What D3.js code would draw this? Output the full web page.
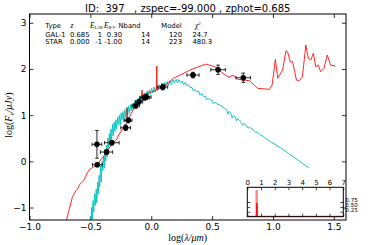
<!DOCTYPE html>
<html>
<head>
<meta charset="utf-8">
<script src="https://cdn.jsdelivr.net/npm/d3@7"></script>
<style>
  body { margin: 0; background: #fff; }
  svg { display: block; }
  text { font-family: "DejaVu Sans", sans-serif; fill: #000; }
  .math { font-family: "Liberation Serif", serif; }
</style>
</head>
<body>
<script>
// ---- data ----
const xTicks = [-1.0, -0.5, 0.0, 0.5, 1.0, 1.5];
const yTicks = [-1, 0, 1, 2, 3];

// observed photometry: log(lambda/um), log(F_nu/uJy), errors
const obsLogLam = [-0.443, -0.446, -0.367, -0.324, -0.210, -0.188, -0.128, -0.100, -0.055, -0.041, 0.095, 0.343, 0.549, 0.756];
const obsLogF   = [-0.074, 0.368, 0.201, 0.403, 0.727, 0.887, 1.203, 1.290, 1.377, 1.392, 1.608, 1.868, 1.983, 1.810];
const obsErrLam = [0.04, 0.04, 0.05, 0.06, 0.04, 0.03, 0.03, 0.03, 0.04, 0.04, 0.04, 0.05, 0.06, 0.06];
const obsErrF   = [0.04, 0.30, 0.05, 0.05, 0.06, 0.05, 0.05, 0.05, 0.05, 0.05, 0.06, 0.06, 0.10, 0.10];

// best galaxy template (red)
const galModel = [
  [-0.72, -1.45], [-0.696, -1.27], [-0.672, -1.02], [-0.647, -0.766], [-0.62, -0.64], [-0.605, -0.6],
  [-0.587, -0.498], [-0.57, -0.46], [-0.552, -0.405], [-0.53, -0.28], [-0.511, -0.188], [-0.48, -0.13],
  [-0.443, -0.074], [-0.41, 0.05], [-0.367, 0.186], [-0.345, 0.29], [-0.321, 0.39], [-0.288, 0.461],
  [-0.267, 0.569], [-0.235, 0.7], [-0.2, 0.84], [-0.198, 1.154], [-0.196, 0.87], [-0.171, 1.002],
  [-0.145, 1.13], [-0.117, 1.255], [-0.078, 1.42], [-0.076, 1.543], [-0.074, 1.44], [-0.035, 1.472],
  [0.0, 1.5], [0.044, 1.54], [0.046, 2.063], [0.048, 1.55], [0.1, 1.615], [0.14, 1.7], [0.182, 1.797],
  [0.237, 1.868], [0.318, 1.976], [0.38, 2.04], [0.449, 2.106], [0.522, 2.048], [0.59, 1.905],
  [0.639, 1.818], [0.671, 1.868], [0.712, 1.775], [0.808, 1.745], [0.875, 1.58], [0.971, 1.558],
  [0.993, 1.652], [1.02, 2.208], [1.039, 1.797], [1.079, 1.976], [1.107, 2.394], [1.12, 2.372],
  [1.142, 2.156], [1.161, 2.156], [1.193, 1.76], [1.215, 1.745], [1.242, 1.831], [1.27, 2.517],
  [1.291, 2.229], [1.311, 2.193], [1.332, 2.338], [1.352, 2.048], [1.373, 2.084], [1.392, 1.939],
  [1.419, 2.013], [1.446, 2.301], [1.474, 2.084], [1.515, 2.063]
];

// best stellar template (cyan)
const starModel = [
  [-0.51, -1.5], [-0.50, -1.2], [-0.495, -1.4], [-0.49, -1.0], [-0.485, -1.25], [-0.478, -0.85],
  [-0.472, -1.1], [-0.465, -0.7], [-0.46, -0.95], [-0.452, -0.6], [-0.447, -0.9], [-0.44, -0.45],
  [-0.435, -0.7], [-0.428, -0.3], [-0.423, -0.55], [-0.416, -0.1], [-0.41, -0.45], [-0.404, 0.0],
  [-0.398, -0.2], [-0.392, 0.1], [-0.386, -0.15], [-0.38, 0.25], [-0.374, 0.0], [-0.368, 0.35],
  [-0.362, 0.1], [-0.356, 0.5], [-0.35, 0.3], [-0.344, 0.6], [-0.338, 0.35], [-0.332, 0.7],
  [-0.326, 0.45], [-0.318, 0.8], [-0.312, 0.55], [-0.305, 0.85], [-0.298, 0.65], [-0.29, 0.9],
  [-0.284, 0.7], [-0.277, 0.95], [-0.27, 0.8], [-0.262, 1.0], [-0.255, 0.78], [-0.247, 1.05],
  [-0.24, 0.9], [-0.232, 1.08], [-0.225, 0.85], [-0.217, 1.12], [-0.21, 0.95], [-0.2, 1.17],
  [-0.193, 1.0], [-0.185, 1.2], [-0.177, 1.05], [-0.168, 1.23], [-0.16, 1.1], [-0.152, 1.26],
  [-0.145, 1.12], [-0.136, 1.3], [-0.128, 1.18], [-0.12, 1.33], [-0.112, 1.2], [-0.104, 1.37],
  [-0.096, 1.25], [-0.088, 1.41], [-0.08, 1.3], [-0.07, 1.44], [-0.062, 1.33], [-0.052, 1.48],
  [-0.044, 1.38], [-0.035, 1.52], [-0.026, 1.42], [-0.016, 1.55], [-0.007, 1.45], [0.004, 1.58],
  [0.013, 1.48], [0.024, 1.61], [0.033, 1.5], [0.045, 1.64], [0.055, 1.55], [0.066, 1.66],
  [0.076, 1.56], [0.088, 1.69], [0.098, 1.6], [0.11, 1.71], [0.12, 1.62], [0.132, 1.73],
  [0.142, 1.64], [0.155, 1.75], [0.165, 1.66], [0.178, 1.77], [0.19, 1.7], [0.205, 1.78],
  [0.215, 1.7], [0.228, 1.77], [0.24, 1.7], [0.255, 1.74], [0.265, 1.66], [0.278, 1.71],
  [0.29, 1.64], [0.305, 1.66], [0.318, 1.6], [0.335, 1.6], [0.345, 1.52], [0.36, 1.56],
  [0.375, 1.5], [0.39, 1.52], [0.4, 1.44], [0.415, 1.47], [0.43, 1.4], [0.445, 1.41],
  [0.455, 1.33], [0.47, 1.37], [0.485, 1.33], [0.5, 1.32], [0.51, 1.25], [0.525, 1.28],
  [0.545, 1.24], [0.563, 1.22], [0.58, 1.19], [0.6, 1.15], [0.62, 1.12], [0.63, 1.02],
  [0.64, 1.08], [0.655, 1.03], [0.665, 0.94], [0.675, 1.0], [0.69, 0.96], [0.7, 0.88],
  [0.71, 0.93], [0.726, 0.89], [0.74, 0.84], [0.75, 0.78], [0.76, 0.82], [0.78, 0.78],
  [0.795, 0.72], [0.808, 0.74], [0.84, 0.68], [0.86, 0.62], [0.87, 0.64], [0.889, 0.59],
  [0.93, 0.52], [0.971, 0.44], [1.052, 0.31], [1.134, 0.16], [1.215, 0.01], [1.297, -0.145]
];

// fit summary table
const tableHead = ["Type", "z", "E_LAW", "E_B-V", "Nband", "Model", "χ2"];
const tableRows = [
  ["GAL-1", "0.685", "1", "0.30", "14", "120", "24.7"],
  ["STAR", "0.000", "-1", "-1.00", "14", "223", "480.3"]
];

// redshift PDF inset
const pdfTicksX = [0, 1, 2, 3, 4, 5, 6, 7];
const pdfTicksY = [0.25, 0.5, 0.75];
const pdfZ = [0, 0.66, 0.69, 0.71, 0.74, 7];
const pdfP = [0.02, 0.02, 0.7, 0.7, 0.02, 0.02];
const zphot = 0.685, zphotPeak = 1.36;

const titleText = "ID:  397   , zspec=-99.000 , zphot=0.685";

// ---- layout ----
const W = 368, H = 245;
const margin = { top: 14, right: 22, bottom: 25, left: 29.5 };
const iw = W - margin.left - margin.right, ih = H - margin.top - margin.bottom;

const svg = d3.select("body").append("svg").attr("width", W).attr("height", H);

const x = d3.scaleLinear().domain([-1.0, 1.6]).range([0, iw]);
const y = d3.scaleLinear().domain([-1.27, 3.19]).range([ih, 0]);

const g = svg.append("g").attr("transform", `translate(${margin.left},${margin.top})`);

svg.append("defs").append("clipPath").attr("id", "clip")
  .append("rect").attr("width", iw).attr("height", ih);

const fmtMinus = d => d3.format(".1f")(d).replace("-", "\u2212");

// axes, ticks pointing inward on all four sides
g.append("g").attr("transform", `translate(0,${ih})`)
  .call(d3.axisBottom(x).tickValues(xTicks).tickFormat(fmtMinus).tickSizeInner(-4).tickSizeOuter(0).tickPadding(4));
g.append("g")
  .call(d3.axisTop(x).tickValues(xTicks).tickFormat("").tickSizeInner(-4).tickSizeOuter(0));
g.append("g")
  .call(d3.axisLeft(y).tickValues(yTicks).tickFormat(d => String(d).replace("-", "\u2212")).tickSizeInner(-4).tickSizeOuter(0).tickPadding(3));
g.append("g").attr("transform", `translate(${iw},0)`)
  .call(d3.axisRight(y).tickValues(yTicks).tickFormat("").tickSizeInner(-4).tickSizeOuter(0));

g.selectAll(".domain").remove();
g.selectAll(".tick line").attr("stroke", "#000").attr("stroke-width", 0.8);
g.selectAll(".tick text").attr("font-size", 9).attr("font-family", "DejaVu Sans");

// curves
const line = d3.line().x(d => x(d[0])).y(d => y(d[1]));
const plot = g.append("g").attr("clip-path", "url(#clip)");

plot.append("path").datum(starModel)
  .attr("d", line).attr("fill", "none").attr("stroke", "#00bfbf").attr("stroke-width", 0.9);
plot.append("path").datum(galModel)
  .attr("d", line).attr("fill", "none").attr("stroke", "#ff0000").attr("stroke-width", 1).attr("stroke-opacity", 0.85);

// photometry with error bars
const obs = obsLogLam.map((l, i) => ({ l, f: obsLogF[i], el: obsErrLam[i], ef: obsErrF[i] }));
const cap = 1.8;
const pts = plot.selectAll("g.obs").data(obs).join("g").attr("class", "obs")
  .attr("stroke", "#111").attr("stroke-width", 0.9);
pts.append("line")
  .attr("x1", d => x(d.l - d.el)).attr("x2", d => x(d.l + d.el))
  .attr("y1", d => y(d.f)).attr("y2", d => y(d.f));
pts.append("line")
  .attr("x1", d => x(d.l)).attr("x2", d => x(d.l))
  .attr("y1", d => y(d.f - d.ef)).attr("y2", d => y(d.f + d.ef));
[-1, 1].forEach(s => {
  pts.append("line")
    .attr("x1", d => x(d.l) - cap).attr("x2", d => x(d.l) + cap)
    .attr("y1", d => y(d.f + s * d.ef)).attr("y2", d => y(d.f + s * d.ef));
  pts.append("line")
    .attr("x1", d => x(d.l + s * d.el)).attr("x2", d => x(d.l + s * d.el))
    .attr("y1", d => y(d.f) - cap).attr("y2", d => y(d.f) + cap);
});
pts.append("circle")
  .attr("cx", d => x(d.l)).attr("cy", d => y(d.f)).attr("r", 2.8)
  .attr("fill", "#000").attr("stroke", "none");

// frame
g.append("rect").attr("width", iw).attr("height", ih)
  .attr("fill", "none").attr("stroke", "#000").attr("stroke-width", 1);

// title
svg.append("text").attr("x", margin.left + iw / 2).attr("y", 12)
  .attr("text-anchor", "middle").attr("font-size", 10)
  .style("white-space", "pre").text(titleText);

// axis labels
const xl = svg.append("text").attr("class", "math").attr("x", margin.left + iw / 2).attr("y", 241)
  .attr("text-anchor", "middle").attr("font-size", 10);
xl.append("tspan").text("log(");
xl.append("tspan").attr("font-style", "italic").text("λ/μm");
xl.append("tspan").text(")");

const yl = svg.append("text").attr("class", "math")
  .attr("transform", `translate(12,${margin.top + y(1.0)}) rotate(-90)`)
  .attr("text-anchor", "middle").attr("font-size", 10);
yl.append("tspan").text("log(");
yl.append("tspan").attr("font-style", "italic").text("F");
yl.append("tspan").attr("font-style", "italic").attr("font-size", 7).attr("dy", 2).text("ν");
yl.append("tspan").attr("font-style", "italic").attr("dy", -2).text("/μJy");
yl.append("tspan").text(")");

// summary table
const cols = [
  { hx: 45.3, ha: "start", vx: 45.3, va: "start" },
  { hx: 72, ha: "middle", vx: 70, va: "start" },
  { hx: 90, ha: "start", vx: 102, va: "end" },
  { hx: 104, ha: "start", vx: 122, va: "end" },
  { hx: 118.5, ha: "start", vx: 150, va: "end" },
  { hx: 161.3, ha: "start", vx: 182, va: "end" },
  { hx: 195, ha: "start", vx: 192.5, va: "start" }
];
const rowY = [27.5, 36.5, 44];
const tfs = 6.8;
const tbl = svg.append("g").attr("font-size", tfs);

tableHead.forEach((h, i) => {
  const t = tbl.append("text").attr("x", cols[i].hx).attr("y", rowY[0]).attr("text-anchor", cols[i].ha);
  if (h === "z") {
    t.attr("class", "math").attr("font-style", "italic").attr("font-size", 7.5).text("z");
  } else if (h.startsWith("E_")) {
    t.attr("class", "math");
    t.append("tspan").attr("font-style", "italic").attr("font-size", 7.5).text("E");
    t.append("tspan").attr("font-style", "italic").attr("font-size", 4.3).attr("dy", 1.5).text(h.slice(2));
  } else if (h === "χ2") {
    t.attr("class", "math");
    t.append("tspan").attr("font-style", "italic").attr("font-size", 7.5).text("χ");
    t.append("tspan").attr("font-size", 5).attr("dy", -3).text("2");
  } else {
    t.text(h);
  }
});
tableRows.forEach((r, j) => {
  r.forEach((v, i) => {
    tbl.append("text").attr("x", cols[i].vx).attr("y", rowY[j + 1])
      .attr("text-anchor", cols[i].va).text(v);
  });
});

// ---- PDF inset ----
const ix0 = 247.3, ix1 = 343.3, iy0 = 187.3, iy1 = 216.7;
const px = d3.scaleLinear().domain([0, 7]).range([ix0, ix1]);
const py = d3.scaleLinear().domain([0, 1.5]).range([iy1, iy0]);
const inset = svg.append("g");

inset.append("rect").attr("x", ix0).attr("y", iy0).attr("width", ix1 - ix0).attr("height", iy1 - iy0)
  .attr("fill", "#fff");

inset.append("line")
  .attr("x1", px(zphot)).attr("x2", px(zphot)).attr("y1", py(0)).attr("y2", py(zphotPeak))
  .attr("stroke", "#ff0000").attr("stroke-opacity", 0.45).attr("stroke-width", 2.6);
inset.append("path").datum(pdfZ.map((z, i) => [z, pdfP[i]]))
  .attr("d", d3.line().x(d => px(d[0])).y(d => py(d[1])))
  .attr("fill", "none").attr("stroke", "#ff0000").attr("stroke-width", 0.9);

inset.append("g").attr("transform", `translate(0,${iy0})`)
  .call(d3.axisTop(px).tickValues(pdfTicksX).tickFormat(d3.format("d")).tickSizeInner(-3).tickSizeOuter(0).tickPadding(2));
inset.append("g").attr("transform", `translate(0,${iy1})`)
  .call(d3.axisBottom(px).tickValues(pdfTicksX).tickFormat("").tickSizeInner(-3).tickSizeOuter(0));
const insetRight = inset.append("g").attr("transform", `translate(${ix1},0)`)
  .call(d3.axisRight(py).tickValues(pdfTicksY).tickFormat(d3.format(".2f")).tickSizeInner(-3).tickSizeOuter(0).tickPadding(2));
inset.append("g").attr("transform", `translate(${ix0},0)`)
  .call(d3.axisLeft(py).tickValues(pdfTicksY).tickFormat("").tickSizeInner(-3).tickSizeOuter(0));

inset.selectAll(".domain").remove();
inset.selectAll(".tick line").attr("stroke", "#000").attr("stroke-width", 0.7);
inset.selectAll(".tick text").attr("font-size", 7).attr("font-family", "DejaVu Sans");
insetRight.selectAll(".tick text").attr("dy", "-0.1em").attr("font-size", 5.6);

inset.append("rect").attr("x", ix0).attr("y", iy0).attr("width", ix1 - ix0).attr("height", iy1 - iy0)
  .attr("fill", "none").attr("stroke", "#000").attr("stroke-width", 1);
</script>
</body>
</html>
